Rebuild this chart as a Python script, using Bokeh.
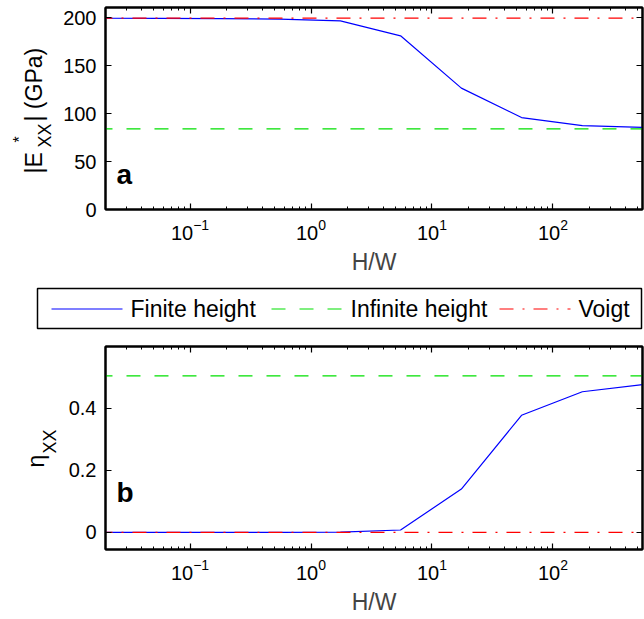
import numpy as np
from bokeh.plotting import figure
from bokeh.models import (LogAxis, LinearAxis, FixedTicker, LogTicker, Range1d,
                          Label, CustomJSTickFormatter)
from bokeh.core.properties import value
from bokeh.layouts import column, row
from bokeh.embed import file_html
from bokeh.resources import INLINE

# ---------------- data ----------------
hw = [0.0175, 0.055, 0.175, 0.55, 1.75, 5.5, 17.5, 55, 175, 550]
e_finite = [199.3, 199.2, 199.0, 198.3, 196.5, 181.0, 126.5, 95.8, 87.5, 85.5]
e_infinite = 84.0
e_voigt = 199.5
eta_finite = [0.0, 0.0, 0.0, 0.0005, 0.001, 0.008, 0.14, 0.378, 0.454, 0.477]
eta_infinite = 0.505
eta_voigt = 0.0
y1_ticks = [0, 50, 100, 150, 200]
y2_ticks = [0, 0.2, 0.4]
legend_labels = ["Finite height", "Infinite height", "Voigt"]

FONT = "Liberation Sans"
BLUE, GREEN, RED = "#0000ff", "#00e000", "#ff0000"
STYLES = [dict(line_color=BLUE, line_width=1.2),
          dict(line_color=GREEN, line_width=1.2, line_dash="14 14"),
          dict(line_color=RED, line_width=1.2, line_dash="14 9 2 9")]

LAB_W = 60
MAIN_W = 644 - LAB_W
FRAME_LEFT = 105


def style_axis(ax, show_labels=True):
    ax.axis_line_color = "black"
    ax.axis_line_width = 2
    ax.major_tick_in = 6
    ax.major_tick_out = 0
    ax.minor_tick_in = 3
    ax.minor_tick_out = 0
    ax.major_tick_line_width = 1.2
    ax.minor_tick_line_width = 1
    ax.major_tick_line_color = "black"
    ax.minor_tick_line_color = "black"
    ax.major_label_text_font = FONT
    ax.major_label_text_color = "black"
    ax.major_label_text_font_size = "20px"
    if show_labels:
        ax.major_label_standoff = 9
    else:
        ax.formatter = CustomJSTickFormatter(code="return '';")
        ax.major_label_standoff = 0


def make_fig(height, top, bottom, y_range, yticks):
    p = figure(width=MAIN_W, height=height, x_axis_type="log",
               x_range=Range1d(0.02, 550), y_range=Range1d(*y_range),
               output_backend="svg", toolbar_location=None,
               min_border_left=FRAME_LEFT - LAB_W, min_border_right=2,
               min_border_top=top, min_border_bottom=bottom)
    p.grid.visible = False
    p.outline_line_color = "black"
    p.outline_line_width = 2
    p.background_fill_color = "white"
    p.border_fill_color = "white"

    xa = p.xaxis[0]
    xa.ticker = LogTicker(num_minor_ticks=10)
    style_axis(xa)
    xa.axis_label = "H/W"
    xa.axis_label_text_font = FONT
    xa.axis_label_text_font_size = "23px"
    xa.axis_label_text_font_style = "normal"
    xa.axis_label_standoff = 6

    ya = p.yaxis[0]
    ya.ticker = FixedTicker(ticks=yticks, minor_ticks=[])
    style_axis(ya)

    above = LogAxis(ticker=LogTicker(num_minor_ticks=10))
    style_axis(above, show_labels=False)
    p.add_layout(above, "above")
    right = LinearAxis(ticker=FixedTicker(ticks=yticks, minor_ticks=[]))
    style_axis(right, show_labels=False)
    p.add_layout(right, "right")
    return p


def blank_fig(width, height):
    f = figure(width=width, height=height, x_range=Range1d(0, width),
               y_range=Range1d(0, height),
               output_backend="svg", toolbar_location=None,
               x_axis_location=None, y_axis_location=None,
               min_border_left=0, min_border_right=0, min_border_top=0, min_border_bottom=0)
    f.grid.visible = False
    f.outline_line_color = None
    f.background_fill_color = "white"
    f.border_fill_color = "white"
    return f


def vtext(f, text, sx, sy, size):
    f.add_layout(Label(x=sx, y=sy, x_units="screen", y_units="screen", text=text,
                       angle=np.pi / 2, text_font=FONT, text_font_size=size,
                       text_baseline="alphabetic", text_align="left", text_color="black"))


# ---------------- top panel (frame: page y 7..209) ----------------
H1 = 283
p1 = make_fig(H1, 7, 74, (0, 210.5), y1_ticks)
p1.line(hw, e_finite, **STYLES[0])
p1.line([hw[0], hw[-1]], [e_infinite, e_infinite], **STYLES[1])
p1.line([hw[0], hw[-1]], [e_voigt, e_voigt], **STYLES[2])
p1.add_layout(Label(x=0.0246, y=20, text="a", text_font=FONT, text_font_size="28px",
                    text_font_style="bold", text_color="black"))
lab1 = blank_fig(LAB_W, H1)
FB1 = 209  # frame bottom (page px) shared by the aligned row
vtext(lab1, "|E", 33, FB1 - 173, "23px")
vtext(lab1, "*", 19, FB1 - 142, "16px")
vtext(lab1, "XX", 44, FB1 - 147, "18px")
vtext(lab1, "| (GPa)", 33, FB1 - 121, "23px")

# ---------------- legend strip (page y 283..333) ----------------
HL = 50
legfig = blank_fig(644, HL)
# legend box and entries (layout in strip pixels)
legfig.quad(left=[37], right=[641], bottom=[5], top=[45], fill_color="white",
            line_color="black", line_width=1.5)
item_x = [51, 271, 499]
SAMPLE_W, STANDOFF, LEG_Y = 71, 8, 24.5
for xs, lab, st in zip(item_x, legend_labels, STYLES):
    legfig.line([xs, xs + SAMPLE_W], [LEG_Y, LEG_Y], **st)
    legfig.text(x=[xs + SAMPLE_W + STANDOFF], y=[LEG_Y], text=[lab],
                text_font=value(FONT), text_font_size="23px", text_color="black",
                text_baseline="middle", text_align="left")

# ---------------- bottom panel (frame: page y 346..549) ----------------
H2 = 619 - H1 - HL
p2 = make_fig(H2, 346 - H1 - HL, 70, (-0.055, 0.6), y2_ticks)
p2.line(hw, eta_finite, **STYLES[0])
p2.line([hw[0], hw[-1]], [eta_infinite, eta_infinite], **STYLES[1])
p2.line([hw[0], hw[-1]], [eta_voigt, eta_voigt], **STYLES[2])
p2.add_layout(Label(x=0.0246, y=0.08, text="b", text_font=FONT, text_font_size="28px",
                    text_font_style="bold", text_color="black"))
lab2 = blank_fig(LAB_W, H2)
FB2 = 549
vtext(lab2, "\u03b7", 35, FB2 - 467, "23px")
vtext(lab2, "XX", 49, FB2 - 453, "18px")

layout = column(row(lab1, p1, spacing=0), legfig, row(lab2, p2, spacing=0), spacing=0)
open("out.html", "w").write(file_html(layout, INLINE))
